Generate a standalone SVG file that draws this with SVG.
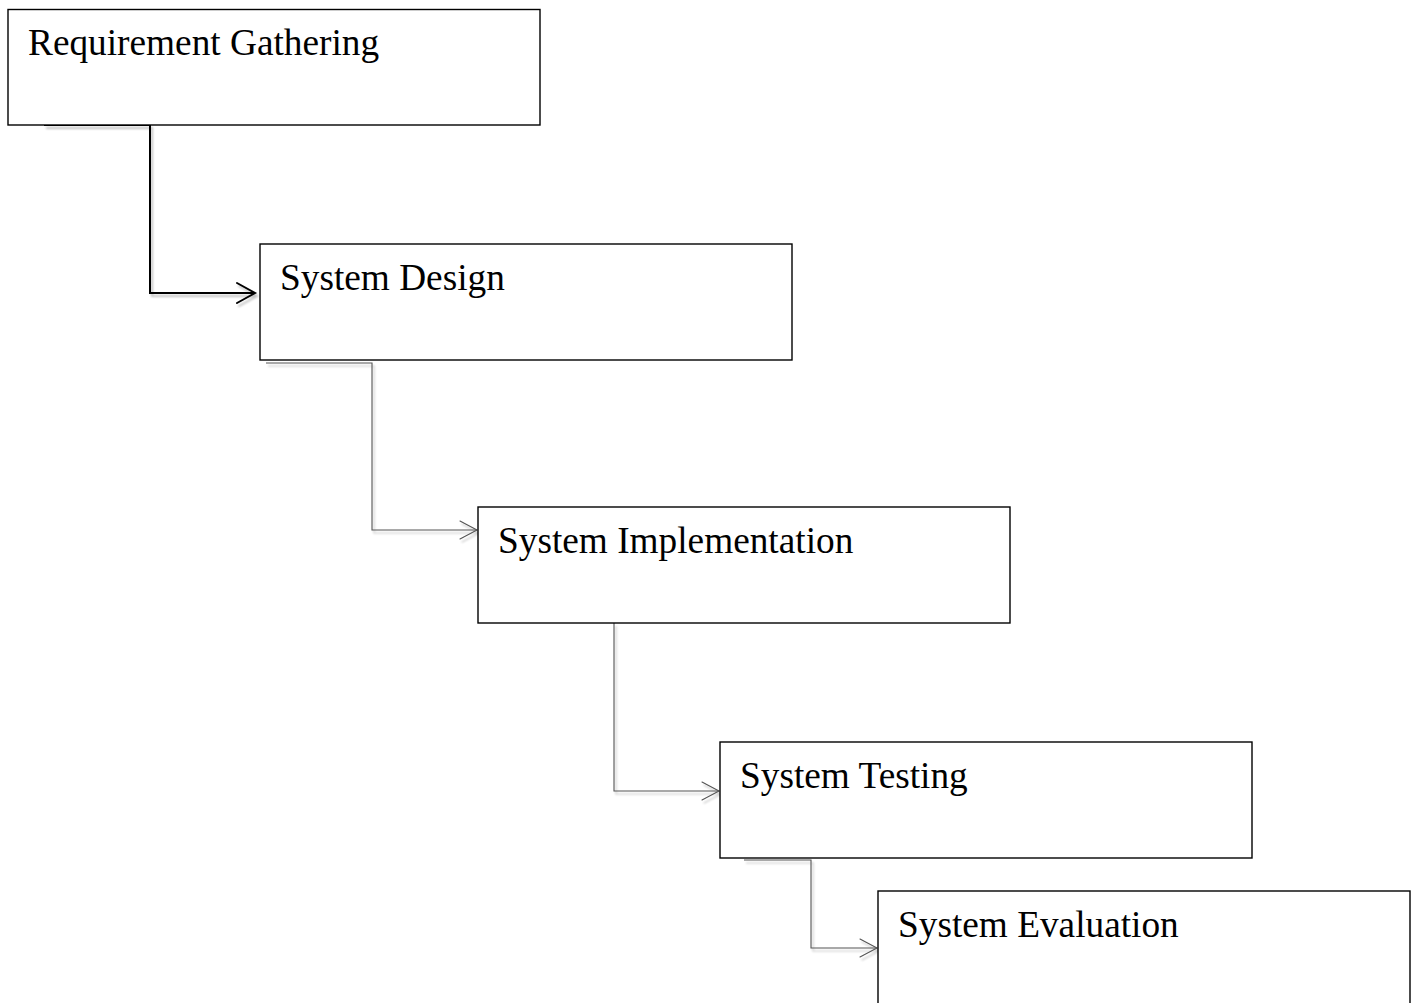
<svg xmlns="http://www.w3.org/2000/svg" width="1418" height="1003" viewBox="0 0 1418 1003">
  <style>
    .box { fill: #ffffff; stroke: #000000; stroke-width: 1.4; }
    .label { font-family: "Liberation Serif", "Times New Roman", serif; font-size: 37.3px; fill: #000000; }
    .link { fill: none; stroke-linejoin: miter; }
    .link.main { stroke: #000000; stroke-width: 2; }
    .link.thin { stroke: #555555; stroke-width: 1.1; }
    .head { fill: none; stroke-linecap: round; }
  </style>
  <defs>
    <filter id="soft" x="-5%" y="-5%" width="110%" height="110%">
      <feGaussianBlur in="SourceAlpha" stdDeviation="1.2"/>
      <feOffset dx="1.5" dy="2.5" result="b"/>
      <feComponentTransfer><feFuncA type="linear" slope="0.25"/></feComponentTransfer>
      <feMerge><feMergeNode/><feMergeNode in="SourceGraphic"/></feMerge>
    </filter>
  </defs>

  <rect width="1418" height="1003" fill="#ffffff"/>

  <g id="connectors" filter="url(#soft)">
    <!-- Requirement Gathering -> System Design -->
    <polyline class="link main" points="44,125 150,125 150,293 255,293"/>
    <polyline class="head main link" points="237,283 255,293 237,303"/>
    <!-- System Design -> System Implementation -->
    <polyline class="link thin" points="266,363 372,363 372,530 477,530"/>
    <polyline class="head thin link" points="460,521 477,530 460,539"/>
    <!-- System Implementation -> System Testing -->
    <polyline class="link thin" points="614,623 614,791 719,791"/>
    <polyline class="head thin link" points="702,782 719,791 702,800"/>
    <!-- System Testing -> System Evaluation -->
    <polyline class="link thin" points="744,860 811,860 811,948 877,948"/>
    <polyline class="head thin link" points="860,939 877,948 860,957"/>
  </g>

  <g id="node-requirement-gathering">
    <rect class="box" x="8" y="9.5" width="532" height="115.5"/>
    <text class="label" x="28" y="55">Requirement Gathering</text>
  </g>
  <g id="node-system-design">
    <rect class="box" x="260" y="244" width="532" height="116"/>
    <text class="label" x="280" y="290">System Design</text>
  </g>
  <g id="node-system-implementation">
    <rect class="box" x="478" y="507" width="532" height="116"/>
    <text class="label" x="498" y="553">System Implementation</text>
  </g>
  <g id="node-system-testing">
    <rect class="box" x="720" y="742" width="532" height="116"/>
    <text class="label" x="740" y="788">System Testing</text>
  </g>
  <g id="node-system-evaluation">
    <rect class="box" x="878" y="891" width="532" height="116"/>
    <text class="label" x="898" y="937">System Evaluation</text>
  </g>
</svg>
